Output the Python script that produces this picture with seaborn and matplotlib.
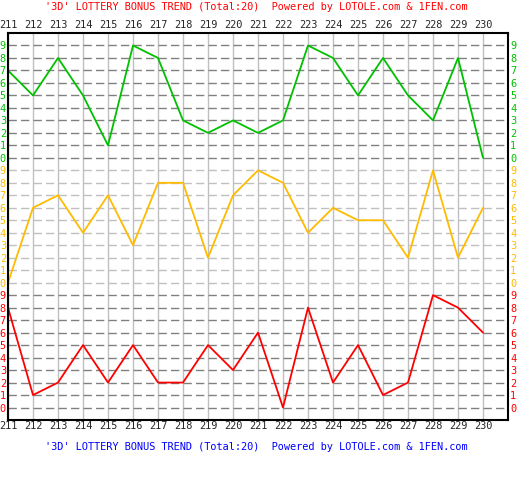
import matplotlib
matplotlib.use('Agg')
import matplotlib.pyplot as plt
import seaborn as sns

# draw numbers and the three digits of each draw
draws = list(range(211, 231))
digit1 = [7, 5, 8, 5, 1, 9, 8, 3, 2, 3, 2, 3, 9, 8, 5, 8, 5, 3, 8, 0]   # green (top)
digit2 = [0, 6, 7, 4, 7, 3, 8, 8, 2, 7, 9, 8, 4, 6, 5, 5, 2, 9, 2, 6]   # orange (middle)
digit3 = [8, 1, 2, 5, 2, 5, 2, 2, 5, 3, 6, 0, 8, 2, 5, 1, 2, 9, 8, 6]   # red (bottom)
digits = list(range(10))
title = "'3D' LOTTERY BONUS TREND (Total:20)  Powered by LOTOLE.com & 1FEN.com"

green = '#00c000'
orange = '#ffbb00'
red = '#ff0000'

sns.set_style('white')
plt.rcParams['font.family'] = ['DejaVu Sans Mono']
plt.rcParams['font.size'] = 7.4

W, H = 518, 500
fig = plt.figure(figsize=(W / 100, H / 100), dpi=100)
gs = fig.add_gridspec(3, 1, height_ratios=[10.5, 10, 10.5], hspace=0,
                      left=8 / W, right=508 / W, top=1 - 33 / H, bottom=1 - 420 / H)
axes = [fig.add_subplot(gs[i]) for i in range(3)]

sections = [(digit1, green, '#808080', (-0.5, 10)),
            (digit2, orange, '#c0c0c0', (-0.5, 9.5)),
            (digit3, red, '#808080', (-1, 9.5))]

for ax, (vals, col, hcol, ylim) in zip(axes, sections):
    # grid first so the trend line sits on top
    for d in draws:
        ax.axvline(d, color='#c0c0c0', lw=1.0, zorder=1)
    for v in digits:
        ax.axhline(v, color=hcol, lw=1.0, dashes=(6, 3), zorder=1)
    sns.lineplot(x=draws, y=vals, ax=ax, color=col, lw=1.3, zorder=3)
    ax.set_xlim(211, 231)
    ax.set_ylim(*ylim)
    ax.set_yticks(digits)
    ax.set_yticklabels([str(v) for v in digits], color=col)
    ax.tick_params(axis='y', length=0, pad=1.5, labelleft=True, labelright=True)
    ax.set_xticks(draws)
    ax.set_xlabel('')
    ax.set_ylabel('')
    for s in ['left', 'right', 'top', 'bottom']:
        ax.spines[s].set_color('black')
        ax.spines[s].set_linewidth(1.5)
        ax.spines[s].set_zorder(5)

axes[0].spines['bottom'].set_visible(False)
axes[1].spines['top'].set_visible(False)
axes[1].spines['bottom'].set_visible(False)
axes[2].spines['top'].set_visible(False)

axes[0].tick_params(axis='x', length=0, pad=2, labeltop=True, labelbottom=False)
axes[0].set_xticklabels([str(d) for d in draws])
axes[1].tick_params(axis='x', length=0, labelbottom=False)
axes[2].tick_params(axis='x', length=0, pad=1, labelbottom=True)
axes[2].set_xticklabels([str(d) for d in draws])

fig.text(45 / W, 1 - 7 / H, title, color=red, ha='left', va='center')
fig.text(45 / W, 1 - 447 / H, title, color='#0000ff', ha='left', va='center')

fig.savefig('out.png', dpi=100, facecolor='white')
